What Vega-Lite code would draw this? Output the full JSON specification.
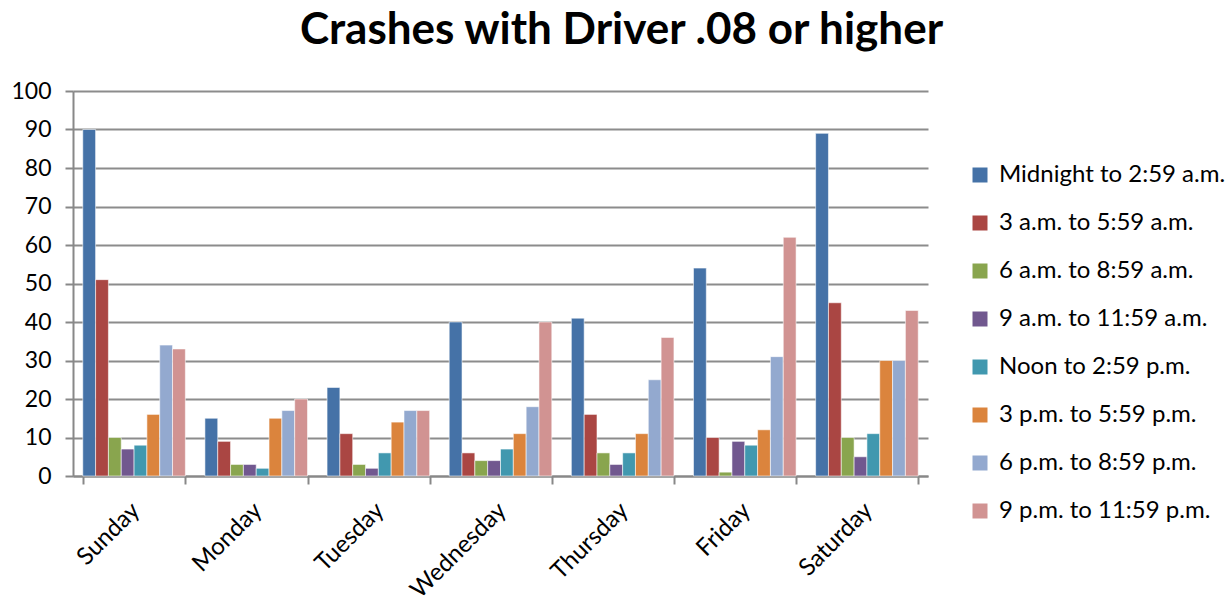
{
  "$schema": "https://vega.github.io/schema/vega-lite/v6.json",
  "autosize": {"type": "none"},
  "width": 855,
  "height": 385,
  "padding": {"left": 73, "top": 91, "right": 301, "bottom": 122},
  "background": "#ffffff",
  "title": {
    "text": "Crashes with Driver .08 or higher",
    "font": "Lato",
    "fontSize": 44,
    "fontWeight": "bold",
    "color": "#000000",
    "anchor": "middle",
    "dx": 121,
    "offset": 27
  },
  "data": {
    "values": [
      {"day": "Sunday", "period": "Midnight to 2:59 a.m.", "crashes": 90},
      {"day": "Sunday", "period": "3 a.m. to 5:59 a.m.", "crashes": 51},
      {"day": "Sunday", "period": "6 a.m. to 8:59 a.m.", "crashes": 10},
      {"day": "Sunday", "period": "9 a.m. to 11:59 a.m.", "crashes": 7},
      {"day": "Sunday", "period": "Noon to 2:59 p.m.", "crashes": 8},
      {"day": "Sunday", "period": "3 p.m. to 5:59 p.m.", "crashes": 16},
      {"day": "Sunday", "period": "6 p.m. to 8:59 p.m.", "crashes": 34},
      {"day": "Sunday", "period": "9 p.m. to 11:59 p.m.", "crashes": 33},
      {"day": "Monday", "period": "Midnight to 2:59 a.m.", "crashes": 15},
      {"day": "Monday", "period": "3 a.m. to 5:59 a.m.", "crashes": 9},
      {"day": "Monday", "period": "6 a.m. to 8:59 a.m.", "crashes": 3},
      {"day": "Monday", "period": "9 a.m. to 11:59 a.m.", "crashes": 3},
      {"day": "Monday", "period": "Noon to 2:59 p.m.", "crashes": 2},
      {"day": "Monday", "period": "3 p.m. to 5:59 p.m.", "crashes": 15},
      {"day": "Monday", "period": "6 p.m. to 8:59 p.m.", "crashes": 17},
      {"day": "Monday", "period": "9 p.m. to 11:59 p.m.", "crashes": 20},
      {"day": "Tuesday", "period": "Midnight to 2:59 a.m.", "crashes": 23},
      {"day": "Tuesday", "period": "3 a.m. to 5:59 a.m.", "crashes": 11},
      {"day": "Tuesday", "period": "6 a.m. to 8:59 a.m.", "crashes": 3},
      {"day": "Tuesday", "period": "9 a.m. to 11:59 a.m.", "crashes": 2},
      {"day": "Tuesday", "period": "Noon to 2:59 p.m.", "crashes": 6},
      {"day": "Tuesday", "period": "3 p.m. to 5:59 p.m.", "crashes": 14},
      {"day": "Tuesday", "period": "6 p.m. to 8:59 p.m.", "crashes": 17},
      {"day": "Tuesday", "period": "9 p.m. to 11:59 p.m.", "crashes": 17},
      {"day": "Wednesday", "period": "Midnight to 2:59 a.m.", "crashes": 40},
      {"day": "Wednesday", "period": "3 a.m. to 5:59 a.m.", "crashes": 6},
      {"day": "Wednesday", "period": "6 a.m. to 8:59 a.m.", "crashes": 4},
      {"day": "Wednesday", "period": "9 a.m. to 11:59 a.m.", "crashes": 4},
      {"day": "Wednesday", "period": "Noon to 2:59 p.m.", "crashes": 7},
      {"day": "Wednesday", "period": "3 p.m. to 5:59 p.m.", "crashes": 11},
      {"day": "Wednesday", "period": "6 p.m. to 8:59 p.m.", "crashes": 18},
      {"day": "Wednesday", "period": "9 p.m. to 11:59 p.m.", "crashes": 40},
      {"day": "Thursday", "period": "Midnight to 2:59 a.m.", "crashes": 41},
      {"day": "Thursday", "period": "3 a.m. to 5:59 a.m.", "crashes": 16},
      {"day": "Thursday", "period": "6 a.m. to 8:59 a.m.", "crashes": 6},
      {"day": "Thursday", "period": "9 a.m. to 11:59 a.m.", "crashes": 3},
      {"day": "Thursday", "period": "Noon to 2:59 p.m.", "crashes": 6},
      {"day": "Thursday", "period": "3 p.m. to 5:59 p.m.", "crashes": 11},
      {"day": "Thursday", "period": "6 p.m. to 8:59 p.m.", "crashes": 25},
      {"day": "Thursday", "period": "9 p.m. to 11:59 p.m.", "crashes": 36},
      {"day": "Friday", "period": "Midnight to 2:59 a.m.", "crashes": 54},
      {"day": "Friday", "period": "3 a.m. to 5:59 a.m.", "crashes": 10},
      {"day": "Friday", "period": "6 a.m. to 8:59 a.m.", "crashes": 1},
      {"day": "Friday", "period": "9 a.m. to 11:59 a.m.", "crashes": 9},
      {"day": "Friday", "period": "Noon to 2:59 p.m.", "crashes": 8},
      {"day": "Friday", "period": "3 p.m. to 5:59 p.m.", "crashes": 12},
      {"day": "Friday", "period": "6 p.m. to 8:59 p.m.", "crashes": 31},
      {"day": "Friday", "period": "9 p.m. to 11:59 p.m.", "crashes": 62},
      {"day": "Saturday", "period": "Midnight to 2:59 a.m.", "crashes": 89},
      {"day": "Saturday", "period": "3 a.m. to 5:59 a.m.", "crashes": 45},
      {"day": "Saturday", "period": "6 a.m. to 8:59 a.m.", "crashes": 10},
      {"day": "Saturday", "period": "9 a.m. to 11:59 a.m.", "crashes": 5},
      {"day": "Saturday", "period": "Noon to 2:59 p.m.", "crashes": 11},
      {"day": "Saturday", "period": "3 p.m. to 5:59 p.m.", "crashes": 30},
      {"day": "Saturday", "period": "6 p.m. to 8:59 p.m.", "crashes": 30},
      {"day": "Saturday", "period": "9 p.m. to 11:59 p.m.", "crashes": 43}
    ]
  },
  "mark": {"type": "bar", "stroke": "#ffffff", "strokeWidth": 0.8, "strokeOpacity": 0.7},
  "encoding": {
    "x": {
      "field": "day",
      "type": "nominal",
      "sort": ["Sunday", "Monday", "Tuesday", "Wednesday", "Thursday", "Friday", "Saturday"],
      "scale": {"paddingInner": 0.16, "paddingOuter": 0.08},
      "axis": {
        "title": null,
        "labelAngle": -45,
        "labelFont": "Lato",
        "labelFontSize": 24,
        "labelColor": "#000000",
        "labelPadding": 14,
        "labelOffset": -7,
        "domainColor": "#888888",
        "domainWidth": 2,
        "tickColor": "#888888",
        "tickWidth": 2,
        "tickSize": 8,
        "tickBand": "extent",
        "grid": false
      }
    },
    "xOffset": {
      "field": "period",
      "type": "nominal",
      "sort": ["Midnight to 2:59 a.m.", "3 a.m. to 5:59 a.m.", "6 a.m. to 8:59 a.m.", "9 a.m. to 11:59 a.m.", "Noon to 2:59 p.m.", "3 p.m. to 5:59 p.m.", "6 p.m. to 8:59 p.m.", "9 p.m. to 11:59 p.m."],
      "scale": {"paddingInner": 0, "paddingOuter": 0}
    },
    "y": {
      "field": "crashes",
      "type": "quantitative",
      "scale": {"domain": [0, 100], "nice": false},
      "axis": {
        "title": null,
        "values": [0, 10, 20, 30, 40, 50, 60, 70, 80, 90, 100],
        "labelFont": "Lato",
        "labelFontSize": 23,
        "labelColor": "#000000",
        "labelPadding": 14,
        "domainColor": "#888888",
        "domainWidth": 2,
        "tickColor": "#888888",
        "tickWidth": 2,
        "tickSize": 8,
        "gridColor": "#8c8c8c",
        "gridWidth": 2
      }
    },
    "color": {
      "field": "period",
      "type": "nominal",
      "scale": {
        "domain": ["Midnight to 2:59 a.m.", "3 a.m. to 5:59 a.m.", "6 a.m. to 8:59 a.m.", "9 a.m. to 11:59 a.m.", "Noon to 2:59 p.m.", "3 p.m. to 5:59 p.m.", "6 p.m. to 8:59 p.m.", "9 p.m. to 11:59 p.m."],
        "range": ["#4572A7", "#AA4643", "#89A54E", "#71588F", "#4198AF", "#DB843D", "#93A9CF", "#D19392"]
      },
      "legend": {
        "title": null,
        "orient": "none",
        "legendX": 895,
        "legendY": 72,
        "symbolType": "square",
        "symbolSize": 225,
        "symbolStrokeWidth": 0,
        "labelFont": "Lato",
        "labelFontSize": 24,
        "labelColor": "#000000",
        "labelLimit": 400,
        "labelOffset": 7,
        "rowPadding": 24
      }
    }
  },
  "config": {"view": {"stroke": null}}
}
